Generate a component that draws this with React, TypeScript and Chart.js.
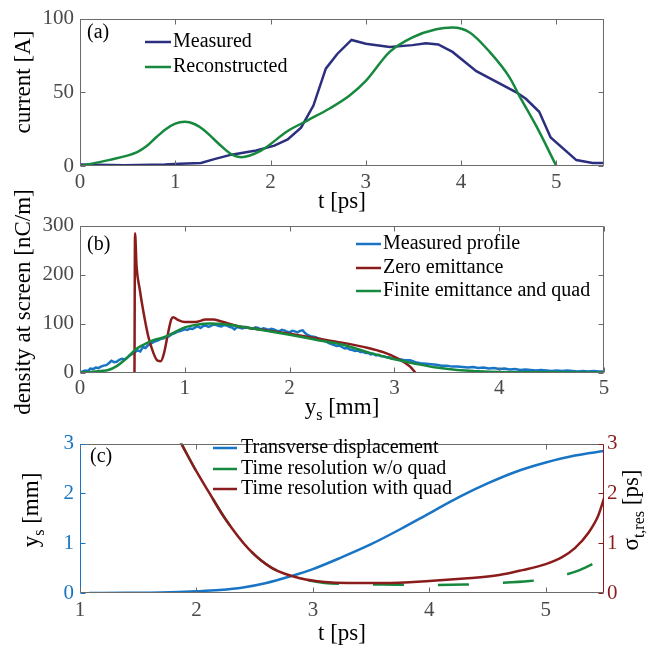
import React, { useEffect, useRef } from "react";
import { Chart, registerables } from "chart.js";
Chart.register(...registerables);

const FONT = '"Liberation Serif", "Times New Roman", serif';

// ---------- Panel (a) data ----------
const A_MEAS_T = [0, 0.47, 0.89, 1.05, 1.27, 1.4, 1.59, 1.85, 2.04, 2.18, 2.32, 2.45, 2.58, 2.7, 2.85, 3.0, 3.25, 3.49, 3.63, 3.76, 3.91, 4.16, 4.58, 4.68, 4.82, 4.94, 5.21, 5.38, 5.5];
const A_MEAS_I = [1, 0.5, 1, 1.5, 2, 4.5, 7.7, 10.5, 13.8, 18, 26, 41, 66, 76, 85.5, 83, 80.7, 82, 83.3, 82.5, 77.4, 64.3, 50, 45.6, 36.8, 19.3, 4, 2, 2];
const A_REC_T = [0, 0.3, 0.6, 0.7, 0.8, 0.9, 1.0, 1.1, 1.2, 1.3, 1.4, 1.5, 1.6, 1.69, 1.9, 2.18, 2.39, 2.62, 2.83, 3.0, 3.25, 3.49, 3.74, 3.91, 4.09, 4.3, 4.51, 4.61, 4.79, 5.0];
const A_REC_I = [0, 4, 9.4, 13.5, 19.5, 25, 28.8, 30, 28.5, 24.5, 18.5, 12.5, 7.5, 6, 10.5, 23.7, 31, 39, 47.8, 57.7, 77.4, 87.3, 92.8, 93.9, 90.6, 77.4, 60, 47.8, 27, 0];
const A_XTICKS = [0, 1, 2, 3, 4, 5];
const A_YTICKS = [0, 50, 100];

// ---------- Panel (b) data ----------
const B_MEAS_Y = [
  0, 0.025, 0.05, 0.075, 0.1, 0.125, 0.15, 0.175, 0.2, 0.225, 0.25, 0.275, 0.3, 0.325, 0.35, 0.375, 0.4, 0.425, 0.45, 0.475,
  0.5, 0.525, 0.55, 0.575, 0.6, 0.625, 0.65, 0.675, 0.7, 0.725, 0.75, 0.775, 0.8, 0.825, 0.85, 0.875, 0.9, 0.925, 0.95, 0.975,
  1.0, 1.025, 1.05, 1.075, 1.1, 1.125, 1.15, 1.175, 1.2, 1.225, 1.25, 1.275, 1.3, 1.325, 1.35, 1.375, 1.4, 1.425, 1.45, 1.475,
  1.5, 1.525, 1.55, 1.575, 1.6, 1.625, 1.65, 1.675, 1.7, 1.725, 1.75, 1.775, 1.8, 1.825, 1.85, 1.875, 1.9, 1.925, 1.95, 1.975,
  2.0, 2.025, 2.05, 2.075, 2.1, 2.125, 2.15, 2.175, 2.2, 2.225, 2.25, 2.275, 2.3, 2.325, 2.35, 2.375, 2.4, 2.425, 2.45, 2.475,
  2.5, 2.525, 2.55, 2.575, 2.6, 2.625, 2.65, 2.675, 2.7, 2.725, 2.75, 2.775, 2.8, 2.825, 2.85, 2.875, 2.9, 2.925, 2.95, 2.975,
  3.0, 3.05, 3.1, 3.15, 3.2, 3.25, 3.3, 3.35, 3.4, 3.45, 3.5, 3.55, 3.6, 3.65, 3.7, 3.75, 3.8, 3.85, 3.9, 3.95,
  4.0, 4.05, 4.1, 4.15, 4.2, 4.25, 4.3, 4.35, 4.4, 4.45, 4.5, 4.55, 4.6, 4.65, 4.7, 4.75, 4.8, 4.85, 4.9, 4.95, 5.0,
];
const B_MEAS_D = [
  0, 2, 4, 3, 8, 7, 10, 9, 12, 14, 15, 19, 24, 21, 22, 26, 28, 27, 30, 35,
  38, 42, 45, 43, 52, 50, 56, 59, 62, 64, 66, 69, 70, 73, 74, 78, 80, 83, 84, 86,
  88, 87, 90, 89, 92, 94, 91, 95, 96, 93, 95, 98, 97, 95, 94, 97, 96, 93, 92, 88,
  93, 91, 90, 93, 92, 90, 89, 92, 91, 88, 90, 89, 87, 89, 88, 85, 84, 87, 86, 83,
  82, 85, 84, 82, 85, 86, 80, 76, 74, 73, 72, 69, 68, 65, 63, 60, 58, 56, 54, 55,
  52, 49, 50, 47, 46, 44, 45, 42, 42, 40, 40, 37, 38, 35, 36, 33, 33, 31, 31, 28,
  29, 27, 25, 25, 21, 19, 18, 17, 16, 14, 14, 12, 12, 11, 10, 11, 9, 10, 8, 9,
  7, 8, 6, 7, 5, 6, 5, 4, 5, 4, 3, 4, 3, 4, 3, 2, 3, 2, 3, 2, 2,
];
const B_ZERO_Y = [0.52, 0.525, 0.54, 0.57, 0.6, 0.65, 0.7, 0.74, 0.77, 0.8, 0.84, 0.87, 0.89, 0.93, 1.0, 1.1, 1.2, 1.27, 1.35, 1.5, 1.75, 2.0, 2.25, 2.5, 2.75, 2.9, 3.02, 3.1, 3.15, 3.2];
const B_ZERO_D = [0, 284, 216, 170, 130, 75, 40, 24, 23, 38, 80, 108, 113, 108, 103, 103, 108, 108, 104, 95, 87, 79, 70, 61, 50, 41, 30, 20, 12, 0];
const B_FIN_Y = [0, 0.1, 0.2, 0.27, 0.35, 0.45, 0.525, 0.6, 0.7, 0.8, 0.9, 1.0, 1.1, 1.25, 1.35, 1.5, 1.75, 2.0, 2.25, 2.5, 2.75, 3.0, 3.2, 3.4, 3.6, 3.8, 4.0, 4.5, 5.0];
const B_FIN_D = [0, 1, 3, 5, 13, 30, 46, 56, 66, 72, 82, 92, 97, 100, 99, 95, 86, 77, 67, 57, 41, 27, 18, 10, 5, 2.5, 1, 0.3, 0];
const B_XTICKS = [0, 1, 2, 3, 4, 5];
const B_YTICKS = [0, 100, 200, 300];

// ---------- Panel (c) data ----------
const C_DISP_T = [1.08, 1.4, 1.7, 2.0, 2.2, 2.4, 2.6, 2.8, 3.0, 3.25, 3.5, 3.75, 4.0, 4.25, 4.5, 4.75, 5.0, 5.25, 5.5];
const C_DISP_Y = [0, 0.004, 0.012, 0.035, 0.06, 0.11, 0.2, 0.33, 0.48, 0.72, 0.98, 1.28, 1.6, 1.92, 2.2, 2.44, 2.62, 2.76, 2.85];
const C_NOQ_T = [1.75, 1.8, 1.87, 2.0, 2.1, 2.25, 2.45, 2.65, 2.9, 3.1, 3.3, 3.6, 4.0, 4.3, 4.6, 4.86, 5.0, 5.14, 5.28, 5.4];
const C_NOQ_S = [3.6, 3.3, 3.0, 2.44, 2.05, 1.48, 0.88, 0.5, 0.29, 0.2, 0.18, 0.17, 0.16, 0.17, 0.2, 0.24, 0.28, 0.35, 0.45, 0.58];
const C_Q_T = [1.75, 1.8, 1.87, 2.0, 2.1, 2.25, 2.45, 2.65, 2.9, 3.1, 3.3, 3.6, 4.0, 4.3, 4.6, 4.8, 5.0, 5.14, 5.25, 5.37, 5.45, 5.5];
const C_Q_S = [3.6, 3.3, 3.0, 2.44, 2.05, 1.48, 0.88, 0.5, 0.29, 0.22, 0.2, 0.2, 0.24, 0.29, 0.36, 0.46, 0.58, 0.72, 0.9, 1.22, 1.55, 1.9];
const C_XTICKS = [1, 2, 3, 4, 5];
const C_YTICKS = [0, 1, 2, 3];

const NAVY = "#2b2f7e";
const GREEN = "#17893f";
const BLUE = "#1874c4";
const RED = "#8b1c1c";
const AXIS = "#6b6b6b";
const TICKTXT = "#4a4a4a";

const pts = (xs: number[], ys: number[]) => xs.map((x, i) => ({ x, y: ys[i] }));

function drawRich(ctx: CanvasRenderingContext2D, segs: any[], cx: number, cy: number, rot: number, size: number) {
  ctx.save();
  ctx.translate(cx, cy);
  ctx.rotate(rot);
  const sub = Math.round(size * 0.68);
  let total = 0;
  const widths = segs.map((s) => {
    ctx.font = `${s.sub ? sub : size}px ${FONT}`;
    const w = ctx.measureText(s.t).width;
    total += w;
    return w;
  });
  let x = -total / 2;
  ctx.textAlign = "left";
  ctx.textBaseline = "alphabetic";
  ctx.fillStyle = "#000";
  const base = size * 0.33;
  segs.forEach((s, i) => {
    ctx.font = `${s.sub ? sub : size}px ${FONT}`;
    ctx.fillText(s.t, x, base + (s.sub ? size * 0.28 : 0));
    x += widths[i];
  });
  ctx.restore();
}

const matlabPlugin = {
  id: "matlab",
  afterDatasetsDraw(chart: any, _args: any, o: any) {
    const ctx: CanvasRenderingContext2D = chart.ctx;
    const a = chart.chartArea;
    const L = Math.round(a.left) + 0.5, R = Math.round(a.right) - 0.5;
    const T = Math.round(a.top) + 0.5, B = Math.round(a.bottom) - 0.5;
    const TL = 5;
    ctx.save();
    ctx.lineWidth = 1;
    const line = (x1: number, y1: number, x2: number, y2: number, c: string) => {
      ctx.strokeStyle = c;
      ctx.beginPath();
      ctx.moveTo(x1, y1);
      ctx.lineTo(x2, y2);
      ctx.stroke();
    };
    const lc = o.leftColor || AXIS, rc = o.rightColor || AXIS;
    line(L, T, R, T, AXIS);
    line(L, B, R, B, AXIS);
    line(L, T, L, B, lc);
    line(R, T, R, B, rc);
    const xs = chart.scales.x;
    xs.ticks.forEach((t: any) => {
      const p = Math.round(xs.getPixelForValue(t.value)) + 0.5;
      line(p, B, p, B - TL, AXIS);
      line(p, T, p, T + TL, AXIS);
    });
    const ys = chart.scales.y;
    ys.ticks.forEach((t: any) => {
      const p = Math.round(ys.getPixelForValue(t.value)) + 0.5;
      line(L, p, L + TL, p, lc);
      if (!chart.scales.y2) line(R, p, R - TL, p, rc);
    });
    if (chart.scales.y2) {
      const y2 = chart.scales.y2;
      y2.ticks.forEach((t: any) => {
        const p = Math.round(y2.getPixelForValue(t.value)) + 0.5;
        line(R, p, R - TL, p, rc);
      });
    }
    // panel label
    ctx.fillStyle = "#000";
    ctx.font = `20px ${FONT}`;
    ctx.textAlign = "left";
    ctx.textBaseline = "middle";
    ctx.fillText(o.panel.text, o.panel.x, o.panel.y);
    // legend
    const lg = o.legend;
    lg.items.forEach((it: any, i: number) => {
      const y = lg.rows[i];
      ctx.strokeStyle = it.color;
      ctx.lineWidth = 2.5;
      ctx.setLineDash([]);
      ctx.beginPath();
      ctx.moveTo(lg.x0, y);
      ctx.lineTo(lg.x1, y);
      ctx.stroke();
      ctx.fillStyle = "#000";
      ctx.font = `20px ${FONT}`;
      ctx.fillText(it.text, lg.xt, y);
    });
    // titles
    o.titles.forEach((t: any) => drawRich(ctx, t.segs, t.x, t.y, t.rot || 0, 23));
    ctx.restore();
  },
};

function tickFont() {
  return { family: FONT, size: 21 };
}

function xScale(min: number, max: number, ticks: number[], h: number, pad: number) {
  return {
    type: "linear",
    min,
    max,
    afterBuildTicks: (s: any) => { s.ticks = ticks.map((v) => ({ value: v })); },
    afterFit: (s: any) => { s.height = h; },
    grid: { display: false, drawTicks: false },
    border: { display: false },
    ticks: { font: tickFont(), color: TICKTXT, padding: pad, autoSkip: false, maxRotation: 0, callback: (v: any) => String(v) },
  };
}

function yScale(min: number, max: number, ticks: number[], w: number, color: string, position = "left") {
  return {
    type: "linear",
    position,
    min,
    max,
    afterBuildTicks: (s: any) => { s.ticks = ticks.map((v) => ({ value: v })); },
    afterFit: (s: any) => { s.width = w; },
    grid: { display: false, drawTicks: false },
    border: { display: false },
    ticks: { font: tickFont(), color, padding: position === "left" ? 6 : 3, autoSkip: false, callback: (v: any) => String(v) },
  };
}

function lineDs(data: any[], color: string, order: number, extra: any = {}) {
  return {
    data,
    borderColor: color,
    backgroundColor: color,
    borderWidth: 2.5,
    pointRadius: 0,
    fill: false,
    order,
    cubicInterpolationMode: "monotone",
    ...extra,
  };
}

export default function App() {
  const ra = useRef<HTMLCanvasElement>(null);
  const rb = useRef<HTMLCanvasElement>(null);
  const rc = useRef<HTMLCanvasElement>(null);

  useEffect(() => {
    document.body.style.margin = "0";
    const base = { responsive: false, maintainAspectRatio: false, animation: false, events: [] };
    const ca = new Chart(ra.current!, {
      type: "line",
      data: {
        datasets: [
          lineDs(pts(A_MEAS_T, A_MEAS_I), NAVY, 1, { cubicInterpolationMode: "default", tension: 0 }),
          lineDs(pts(A_REC_T, A_REC_I), GREEN, 0),
        ],
      },
      options: {
        ...base,
        layout: { padding: { top: 14, left: 0, right: 53, bottom: 0 } },
        scales: { x: xScale(0, 5.5, A_XTICKS, 56, 3.5), y: yScale(0, 100, A_YTICKS, 80, TICKTXT) },
        plugins: {
          legend: { display: false },
          tooltip: { enabled: false },
          matlab: {
            panel: { text: "(a)", x: 87, y: 33 },
            legend: { x0: 145, x1: 171, xt: 173, rows: [42, 67], items: [{ text: "Measured", color: NAVY }, { text: "Reconstructed", color: GREEN }] },
            titles: [
              { segs: [{ t: "current [A]" }], x: 22, y: 82, rot: -Math.PI / 2 },
              { segs: [{ t: "t [ps]" }], x: 342, y: 200 },
            ],
          },
        },
      } as any,
      plugins: [matlabPlugin],
    } as any);

    const cb = new Chart(rb.current!, {
      type: "line",
      data: {
        datasets: [
          lineDs(pts(B_MEAS_Y, B_MEAS_D), BLUE, 2, { cubicInterpolationMode: "default", tension: 0 }),
          lineDs(pts(B_ZERO_Y, B_ZERO_D), RED, 1),
          lineDs(pts(B_FIN_Y, B_FIN_D), GREEN, 0),
        ],
      },
      options: {
        ...base,
        layout: { padding: { top: 45.5, left: 0, right: 53, bottom: 0 } },
        scales: { x: xScale(0, 5, B_XTICKS, 52.5, 3), y: yScale(0, 300, B_YTICKS, 80, TICKTXT) },
        plugins: {
          legend: { display: false },
          tooltip: { enabled: false },
          matlab: {
            panel: { text: "(b)", x: 87, y: 65 },
            legend: {
              x0: 356, x1: 381, xt: 383, rows: [64, 88, 111],
              items: [
                { text: "Measured profile", color: BLUE },
                { text: "Zero emittance", color: RED },
                { text: "Finite emittance and quad", color: GREEN },
              ],
            },
            titles: [
              { segs: [{ t: "density at screen [nC/m]" }], x: 22, y: 122, rot: -Math.PI / 2 },
              { segs: [{ t: "y" }, { t: "s", sub: true }, { t: " [mm]" }], x: 342, y: 226 },
            ],
          },
        },
      } as any,
      plugins: [matlabPlugin],
    } as any);

    const cc = new Chart(rc.current!, {
      type: "line",
      data: {
        datasets: [
          lineDs(pts(C_DISP_T, C_DISP_Y), BLUE, 2),
          lineDs(pts(C_NOQ_T, C_NOQ_S), GREEN, 1, { yAxisID: "y2", borderDash: [31, 34], borderDashOffset: 33 }),
          lineDs(pts(C_Q_T, C_Q_S), RED, 0, { yAxisID: "y2" }),
        ],
      },
      options: {
        ...base,
        layout: { padding: { top: 12, left: 0, right: 0, bottom: 0 } },
        scales: {
          x: xScale(1, 5.5, C_XTICKS, 55, 4.5),
          y: yScale(0, 3, C_YTICKS, 80, BLUE),
          y2: yScale(0, 3, C_YTICKS, 53, RED, "right"),
        },
        plugins: {
          legend: { display: false },
          tooltip: { enabled: false },
          matlab: {
            leftColor: BLUE,
            rightColor: RED,
            panel: { text: "(c)", x: 90, y: 32 },
            legend: {
              x0: 213, x1: 237, xt: 241, rows: [23, 44, 64],
              items: [
                { text: "Transverse displacement", color: BLUE },
                { text: "Time resolution w/o quad", color: GREEN },
                { text: "Time resolution with quad", color: RED },
              ],
            },
            titles: [
              { segs: [{ t: "y" }, { t: "s", sub: true }, { t: " [mm]" }], x: 30, y: 85, rot: -Math.PI / 2 },
              { segs: [{ t: "σ" }, { t: "t,res", sub: true }, { t: " [ps]" }], x: 630, y: 85, rot: -Math.PI / 2 },
              { segs: [{ t: "t [ps]" }], x: 342, y: 207 },
            ],
          },
        },
      } as any,
      plugins: [matlabPlugin],
    } as any);

    return () => {
      ca.destroy();
      cb.destroy();
      cc.destroy();
    };
  }, []);

  return (
    <div style={{ position: "absolute", left: 0, top: 0, width: 657, height: 648, background: "#fff", overflow: "hidden" }}>
      <canvas ref={ra} width={657} height={222} style={{ position: "absolute", left: 0, top: 0, width: 657, height: 222 }} />
      <canvas ref={rb} width={657} height={245} style={{ position: "absolute", left: 0, top: 180, width: 657, height: 245 }} />
      <canvas ref={rc} width={657} height={223} style={{ position: "absolute", left: 0, top: 425, width: 657, height: 223 }} />
    </div>
  );
}
